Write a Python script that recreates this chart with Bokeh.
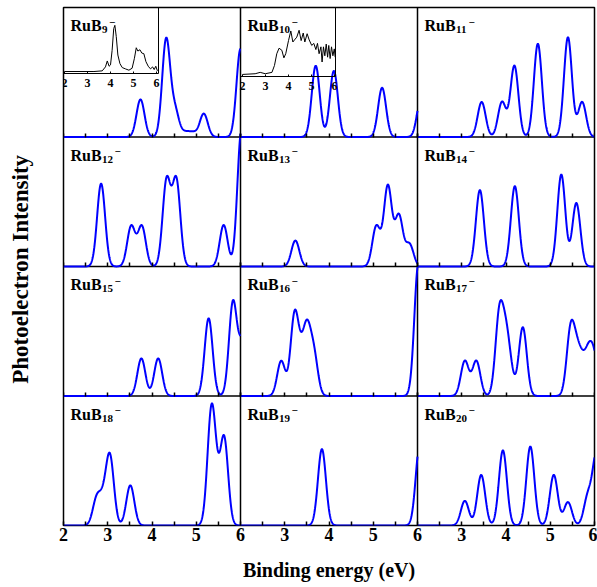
import numpy as np
from bokeh.plotting import figure
from bokeh.models import Range1d, LinearAxis, FixedTicker, Span, Label
from bokeh.embed import file_html
from bokeh.resources import INLINE

# ---------------- data ----------------
CLUSTER_SIZES = [9, 10, 11, 12, 13, 14, 15, 16, 17, 18, 19, 20]
LABEL_BASE = "RuB"
LABEL_CHARGE = "\u2212"
X_TICKS_FIRST = [2, 3, 4, 5, 6]
X_TICKS_OTHER = [3, 4, 5, 6]
X_MINOR = [2.5, 3.5, 4.5, 5.5]
INSET_TICKS = [2, 3, 4, 5, 6]
X_LABEL = "Binding energy (eV)"
Y_LABEL = "Photoelectron  Intensity"
SIGMA = 0.09  # Gaussian broadening (eV)

# simulated spectra: peak positions (eV) and relative intensities
E9 = [3.74, 4.32, 4.52, 4.75, 4.92, 5.17, 6.00]
A9 = [0.29, 0.75, 0.20, 0.035, 0.035, 0.18, 0.68]
E10 = [3.70, 4.11, 5.20, 6.08]
A10 = [0.55, 0.51, 0.38, 0.30]
E11 = [3.45, 3.91, 4.19, 4.72, 5.40, 5.72]
A11 = [0.27, 0.27, 0.55, 0.72, 0.77, 0.27]
E12 = [2.85, 3.53, 3.77, 4.33, 4.55, 5.62, 6.02]
A12 = [0.64, 0.31, 0.31, 0.66, 0.66, 0.32, 1.05]
E13 = [3.24, 5.07, 5.33, 5.58, 5.82]
A13 = [0.20, 0.31, 0.62, 0.39, 0.17]
E14 = [3.41, 4.20, 5.25, 5.59]
A14 = [0.59, 0.62, 0.71, 0.49]
E15 = [3.76, 4.14, 5.28, 5.83, 6.05]
A15 = [0.29, 0.29, 0.60, 0.72, 0.40]
E16 = [2.92, 3.22, 3.36, 3.50, 3.66, 6.02]
A16 = [0.27, 0.60, 0.18, 0.47, 0.30, 1.02]
E17 = [3.07, 3.33, 3.85, 4.00, 4.10, 4.38, 5.46, 5.60, 5.72, 5.87, 6.00]
A17 = [0.27, 0.27, 0.61, 0.38, 0.12, 0.53, 0.49, 0.25, 0.18, 0.28, 0.25]
E18 = [2.75, 2.90, 3.05, 3.51, 5.34, 5.44, 5.63]
A18 = [0.20, 0.15, 0.52, 0.31, 0.82, 0.20, 0.67]
E19 = [3.84, 6.05]
A19 = [0.59, 0.62]
E20 = [3.07, 3.44, 3.93, 4.55, 5.08, 5.40, 5.85, 6.05]
A20 = [0.19, 0.39, 0.58, 0.61, 0.39, 0.18, 0.22, 0.55]

# experimental insets (RuB9-, RuB10-)
INSET9_E = [2.00, 3.28, 3.64, 3.78, 3.86, 3.94, 4.00, 4.07, 4.14, 4.19,
            4.25, 4.32, 4.41, 4.51, 4.65, 4.80, 4.94, 5.04, 5.12, 5.19,
            5.28, 5.36, 5.45, 5.54, 5.64, 5.74, 5.83, 5.90, 5.97, 6.04]
INSET9_I = [0.03, 0.03, 0.04, 0.10, 0.19, 0.11, 0.13, 0.35, 0.68, 0.73,
            0.56, 0.28, 0.15, 0.09, 0.07, 0.05, 0.08, 0.23, 0.39, 0.34,
            0.36, 0.31, 0.30, 0.18, 0.11, 0.07, 0.10, 0.06, 0.11, 0.04]
INSET10_E = [2.00, 2.55, 2.77, 2.99, 3.28, 3.39, 3.49, 3.59, 3.71, 3.80,
             3.88, 4.00, 4.10, 4.19, 4.26, 4.36, 4.46, 4.55, 4.64, 4.71,
             4.81, 4.90, 5.01, 5.10, 5.19, 5.26, 5.33, 5.41, 5.46, 5.52,
             5.58, 5.64, 5.70, 5.75, 5.81, 5.87, 5.93, 5.99, 6.03]
INSET10_I = [0.03, 0.04, 0.06, 0.04, 0.06, 0.16, 0.33, 0.41, 0.38, 0.27,
             0.33, 0.52, 0.66, 0.50, 0.53, 0.57, 0.67, 0.52, 0.63, 0.50,
             0.62, 0.53, 0.45, 0.48, 0.39, 0.48, 0.33, 0.43, 0.21, 0.43,
             0.30, 0.47, 0.28, 0.45, 0.26, 0.43, 0.30, 0.40, 0.28]

PEAKS = [(E9, A9), (E10, A10), (E11, A11), (E12, A12), (E13, A13), (E14, A14),
         (E15, A15), (E16, A16), (E17, A17), (E18, A18), (E19, A19), (E20, A20)]

# ---------------- layout / style ----------------
FONT = "Liberation Serif"
BLUE = "#0000ff"
FW, FH = 531, 518
ML, MR, MT, MB = 63, 3, 7, 61
NCOL, NROW = 3, 4
E0, E1 = 2.0, 6.0
SPAN_E = E1 - E0
RH = FH / NROW
CW = FW / NCOL
TICK_LEN = 4

p = figure(width=FW + ML + MR, height=FH + MT + MB,
           x_range=Range1d(0, NCOL), y_range=Range1d(0, NROW),
           output_backend="svg", toolbar_location=None,
           min_border_left=ML, min_border_right=MR,
           min_border_top=MT, min_border_bottom=MB)
p.grid.visible = False
p.outline_line_color = "black"
p.outline_line_width = 1.5
p.background_fill_color = "white"
p.border_fill_color = "white"


def col_pos(j, e):
    """panel-unit position of energy e in column j (default x range)"""
    return j + (e - E0) / SPAN_E


# bottom (shared) x axis: ticks/labels of the three bottom panels
major_pos, minor_pos, overrides = [], [], {}
for j in range(NCOL):
    for t in (X_TICKS_FIRST if j == 0 else X_TICKS_OTHER):
        pos = col_pos(j, t)
        major_pos.append(pos)
        overrides[pos] = str(t)
    for t in X_MINOR:
        minor_pos.append(col_pos(j, t))

xa = p.below[0]
xa.ticker = FixedTicker(ticks=major_pos, minor_ticks=minor_pos)
xa.major_label_overrides = overrides
xa.axis_line_color = None
xa.major_tick_in = TICK_LEN
xa.major_tick_out = 0
xa.minor_tick_in = TICK_LEN
xa.minor_tick_out = 0
xa.major_tick_line_width = 1.5
xa.minor_tick_line_width = 1.5
xa.major_tick_line_color = "black"
xa.minor_tick_line_color = "black"
xa.major_label_text_font = FONT
xa.major_label_text_font_style = "bold"
xa.major_label_text_font_size = "18px"
xa.major_label_text_color = "black"
xa.major_label_standoff = 2
xa.axis_label = X_LABEL
xa.axis_label_text_font = FONT
xa.axis_label_text_font_style = "bold"
xa.axis_label_text_font_size = "20px"
xa.axis_label_text_color = "black"
xa.axis_label_standoff = 15

ya = p.left[0]
ya.ticker = FixedTicker(ticks=[], minor_ticks=[])
ya.axis_line_color = None
ya.major_tick_in = 0
ya.major_tick_out = 0
ya.minor_tick_in = 0
ya.minor_tick_out = 0
ya.major_label_standoff = 0
ya.axis_label = Y_LABEL
ya.axis_label_text_font = FONT
ya.axis_label_text_font_style = "bold"
ya.axis_label_text_font_size = "23px"
ya.axis_label_text_color = "black"
ya.axis_label_standoff = 31

xr = {f"c{j}": Range1d(E0 - SPAN_E * j, E0 + SPAN_E * (NCOL - j)) for j in range(NCOL)}
yr = {f"r{i}": Range1d(-(NROW - 1 - i), 1 + i) for i in range(NROW)}

# insets: (row, col, E, I, left pad px, depth px, width px)
PPE = 23.0
INSETS = [(0, 0, INSET9_E, INSET9_I, 1.0, 66.0, 94.7),
          (0, 1, INSET10_E, INSET10_I, 2.0, 69.0, 94.7)]
for k, (i, j, ie, ii, pad, depth, wpx) in enumerate(INSETS):
    col_left = j * CW
    start = E0 - (pad + col_left) / PPE
    xr[f"ix{k}"] = Range1d(start, start + FW / PPE)
    yr[f"iy{k}"] = Range1d(1 - (FH - i * RH) / depth, 1 + i * RH / depth)
p.extra_x_ranges = xr
p.extra_y_ranges = yr

# panel separators
for b in range(1, NCOL):
    p.add_layout(Span(location=b, dimension="height", line_color="black",
                      line_width=1.5, level="underlay"))
for b in range(1, NROW):
    p.add_layout(Span(location=b, dimension="width", line_color="black",
                      line_width=1.5, level="underlay"))

# spectra
grid = np.linspace(E0, E1, 801)


def spectrum(centers, amps):
    c = np.asarray(centers, dtype=float)[:, None]
    a = np.asarray(amps, dtype=float)[:, None]
    return (a * np.exp(-(grid[None, :] - c) ** 2 / (2 * SIGMA ** 2))).sum(axis=0)


for k, (ec, ac) in enumerate(PEAKS):
    i, j = divmod(k, NCOL)
    p.line(grid, spectrum(ec, ac), x_range_name=f"c{j}", y_range_name=f"r{i}",
           line_color=BLUE, line_width=2)

# inner tick marks at the bottom of the upper panels
for i in range(NROW - 1):
    for j in range(NCOL):
        ax = LinearAxis(x_range_name=f"c{j}", y_range_name=f"r{i}", fixed_location=0,
                        bounds=(E0, E1),
                        ticker=FixedTicker(ticks=[], minor_ticks=X_TICKS_FIRST + X_MINOR),
                        axis_line_color=None,
                        major_tick_in=0, major_tick_out=0,
                        minor_tick_in=TICK_LEN, minor_tick_out=0,
                        minor_tick_line_width=1.5, minor_tick_line_color="black",
                        major_label_standoff=0)
        p.add_layout(ax, "below")

# insets
for k, (i, j, ie, ii, pad, depth, wpx) in enumerate(INSETS):
    left_val = E0 - pad / PPE
    right_val = left_val + wpx / PPE
    p.line(ie, ii, x_range_name=f"ix{k}", y_range_name=f"iy{k}",
           line_color="black", line_width=1)
    iax = LinearAxis(x_range_name=f"ix{k}", y_range_name=f"iy{k}", fixed_location=0,
                     bounds=(left_val, right_val),
                     ticker=FixedTicker(ticks=INSET_TICKS, minor_ticks=[]),
                     axis_line_color="black", axis_line_width=1,
                     major_tick_in=2, major_tick_out=0, minor_tick_in=0, minor_tick_out=0,
                     major_tick_line_color="black",
                     major_label_text_font=FONT, major_label_text_font_style="bold",
                     major_label_text_font_size="12px", major_label_text_color="black",
                     major_label_standoff=5)
    p.add_layout(iax, "below")
    rax = LinearAxis(x_range_name=f"ix{k}", y_range_name=f"iy{k}", fixed_location=right_val,
                     bounds=(0, 1), ticker=FixedTicker(ticks=[], minor_ticks=[]),
                     axis_line_color="black", axis_line_width=1,
                     major_tick_in=0, major_tick_out=0, minor_tick_in=0, minor_tick_out=0,
                     major_label_standoff=0)
    p.add_layout(rax, "right")

# panel labels
for k, n in enumerate(CLUSTER_SIZES):
    i, j = divmod(k, NCOL)
    common = dict(x=E0, y=1, x_range_name=f"c{j}", y_range_name=f"r{i}",
                  text_font=FONT, text_font_style="bold", text_color="black",
                  text_baseline="alphabetic", text_align="left")
    sub = str(n)
    p.add_layout(Label(text=LABEL_BASE, x_offset=7, y_offset=-18,
                       text_font_size="16px", **common))
    p.add_layout(Label(text=sub, x_offset=38.5, y_offset=-22,
                       text_font_size="11px", **common))
    p.add_layout(Label(text=LABEL_CHARGE, x_offset=38.5 + 5.5 * len(sub) + 1.5,
                       y_offset=-14.5, text_font_size="11px", **common))

open("out.html", "w").write(file_html(p, INLINE))
